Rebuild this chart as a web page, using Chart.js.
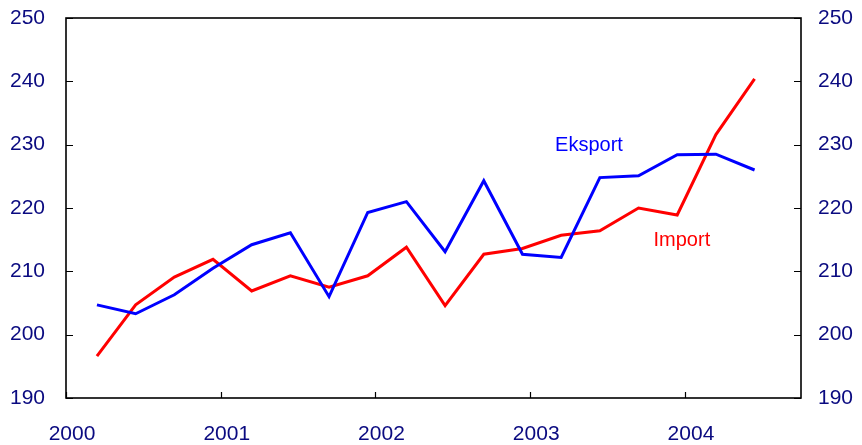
<!DOCTYPE html>
<html lang="no">
<head>
  <meta charset="UTF-8" />
  <title>Eksport og import</title>
  <style>
    html, body { margin: 0; padding: 0; background: #fff; }
    #wrap { width: 862px; height: 445px; }
  </style>
</head>
<body>
  <div id="wrap"><canvas id="tradeChart" width="862" height="445"></canvas></div>

  <script src="https://cdn.jsdelivr.net/npm/chart.js"></script>
  <script>
    // quarter positions on the time axis (years)
    const periods = [2000.2, 2000.45, 2000.7, 2000.95, 2001.2, 2001.45, 2001.7, 2001.95,
                     2002.2, 2002.45, 2002.7, 2002.95, 2003.2, 2003.45, 2003.7, 2003.95,
                     2004.2, 2004.45];
    const eksport = [204.7, 203.3, 206.3, 210.5, 214.2, 216.1, 206.0, 219.3, 221.0,
                     213.1, 224.3, 212.7, 212.2, 224.8, 225.1, 228.4, 228.5, 226.0];
    const importData = [196.6, 204.7, 209.1, 211.9, 206.9, 209.3, 207.5, 209.3, 213.8,
                        204.6, 212.7, 213.6, 215.7, 216.4, 220.0, 218.9, 231.6, 240.4];
    const yearTicks = [2000, 2001, 2002, 2003, 2004];
    const valueTicks = [190, 200, 210, 220, 230, 240, 250];

    const tickColor = "#0a0a80";
    const tickFont = { family: "Liberation Sans", size: 21 };

    const toPoints = (vals) => vals.map((v, i) => ({ x: periods[i], y: v }));

    // fixed width for the value axes, no extra top/bottom room for labels
    const fitY = (w) => (s) => { s.width = w; s.paddingTop = 0; s.paddingBottom = 0; };

    // frame, inner tick marks and series names
    const framePlugin = {
      id: "frame",
      afterDraw(chart) {
        const { ctx, chartArea: a, scales } = chart;
        ctx.save();
        ctx.strokeStyle = "#000";
        ctx.lineWidth = 1.6;
        ctx.strokeRect(a.left, a.top, a.right - a.left, a.bottom - a.top);
        ctx.lineWidth = 1.2;
        ctx.beginPath();
        valueTicks.forEach(v => {
          const py = Math.round(scales.y.getPixelForValue(v)) + 0.5;
          ctx.moveTo(a.left, py); ctx.lineTo(a.left + 7, py);
          ctx.moveTo(a.right, py); ctx.lineTo(a.right - 7, py);
        });
        yearTicks.forEach(v => {
          const px = Math.round(scales.x.getPixelForValue(v)) + 0.5;
          ctx.moveTo(px, a.bottom); ctx.lineTo(px, a.bottom - 6);
        });
        ctx.stroke();

        ctx.font = "20px 'Liberation Sans'";
        ctx.textAlign = "center";
        ctx.textBaseline = "middle";
        ctx.fillStyle = "#0000ff";
        ctx.fillText("Eksport", scales.x.getPixelForValue(2003.38), scales.y.getPixelForValue(229.9));
        ctx.fillStyle = "#ff0000";
        ctx.fillText("Import", scales.x.getPixelForValue(2003.98), scales.y.getPixelForValue(214.9));
        ctx.restore();
      }
    };

    new Chart(document.getElementById("tradeChart"), {
      type: "line",
      data: {
        datasets: [
          {
            label: "Eksport",
            data: toPoints(eksport),
            borderColor: "#0000ff",
            borderWidth: 3,
            pointRadius: 0,
            tension: 0,
            fill: false
          },
          {
            label: "Import",
            data: toPoints(importData),
            borderColor: "#ff0000",
            borderWidth: 3,
            pointRadius: 0,
            tension: 0,
            fill: false
          }
        ]
      },
      options: {
        responsive: false,
        animation: false,
        layout: { padding: { top: 18, left: 0, right: 0, bottom: 0 } },
        plugins: {
          legend: { display: false },
          tooltip: { enabled: false }
        },
        scales: {
          x: {
            type: "linear",
            min: 2000,
            max: 2004.75,
            grid: { display: false, drawTicks: false },
            border: { display: false },
            afterBuildTicks: s => { s.ticks = yearTicks.map(v => ({ value: v })); },
            afterFit: s => { s.height = 47; s.paddingLeft = 0; s.paddingRight = 0; },
            ticks: {
              color: tickColor,
              font: tickFont,
              padding: 24,
              labelOffset: 6,
              maxRotation: 0,
              autoSkip: false,
              callback: v => String(v)
            }
          },
          y: {
            position: "left",
            min: 190,
            max: 250,
            grid: { display: false, drawTicks: false },
            border: { display: false },
            afterBuildTicks: s => { s.ticks = valueTicks.map(v => ({ value: v })); },
            afterFit: fitY(66),
            ticks: { color: tickColor, font: tickFont, padding: 21 }
          },
          y2: {
            position: "right",
            min: 190,
            max: 250,
            grid: { display: false, drawTicks: false },
            border: { display: false },
            afterBuildTicks: s => { s.ticks = valueTicks.map(v => ({ value: v })); },
            afterFit: fitY(61),
            ticks: { color: tickColor, font: tickFont, padding: 17 }
          }
        }
      },
      plugins: [framePlugin]
    });
  </script>
</body>
</html>
